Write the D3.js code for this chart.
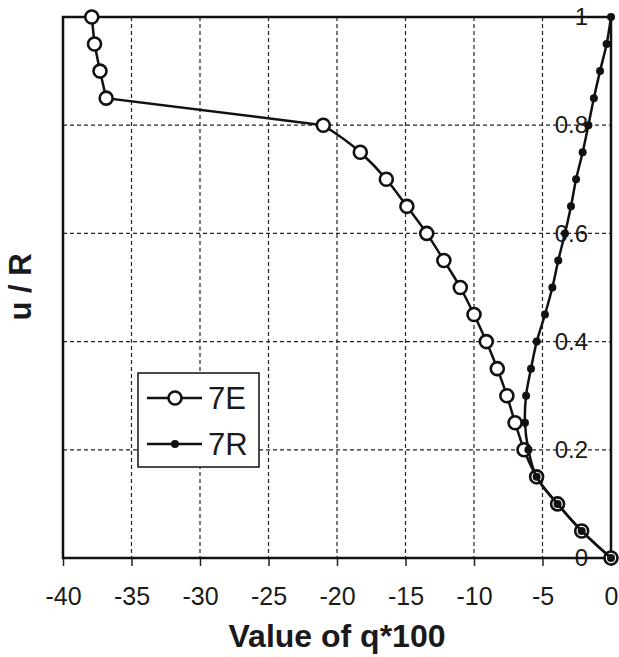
<!DOCTYPE html>
<html>
<head>
<meta charset="utf-8">
<script src="https://cdn.jsdelivr.net/npm/d3@7/dist/d3.min.js"></script>
<style>
  body { margin: 0; background: #fff; }
  svg { display: block; font-family: "Liberation Sans", Arial, sans-serif; }
  .grid line { stroke: #222; stroke-width: 1.2; stroke-dasharray: 4,3; }
</style>
</head>
<body>
<script>
// values
var uR7E = [1.0, 0.95, 0.9, 0.85, 0.8, 0.75, 0.7, 0.65, 0.6, 0.55, 0.5, 0.45, 0.4, 0.35, 0.3, 0.25, 0.2, 0.15, 0.1, 0.05, 0];
var q7E  = [-37.9, -37.7, -37.3, -36.85, -21.0, -18.3, -16.4, -14.9, -13.45, -12.2, -11.0, -10.0, -9.1, -8.3, -7.6, -7.0, -6.35, -5.43, -3.9, -2.14, 0];
var uR7R = [0, 0.05, 0.1, 0.15, 0.2, 0.25, 0.3, 0.35, 0.4, 0.45, 0.5, 0.55, 0.6, 0.65, 0.7, 0.75, 0.8, 0.85, 0.9, 0.95, 1.0];
var q7R  = [0, -2.14, -3.9, -5.43, -6.03, -6.28, -6.2, -5.84, -5.42, -4.82, -4.28, -3.85, -3.36, -2.92, -2.55, -2.07, -1.65, -1.25, -0.8, -0.32, 0];
var xTicks = [-40, -35, -30, -25, -20, -15, -10, -5, 0];
var yTicks = [0, 0.2, 0.4, 0.6, 0.8, 1];
var seriesNames = ["7E", "7R"];

var width = 619, height = 657;
var plotLeft = 63, plotRight = 611, plotTop = 17, plotBottom = 558;

var x = d3.scaleLinear().domain([-40, 0]).range([plotLeft, plotRight]);
var y = d3.scaleLinear().domain([0, 1]).range([plotBottom, plotTop]);

var svg = d3.select("body").append("svg")
  .attr("width", width)
  .attr("height", height);

// dashed grid
var grid = svg.append("g").attr("class", "grid");
grid.selectAll(".vx")
  .data(xTicks.slice(1, -1))
  .enter().append("line")
  .attr("x1", function (d) { return x(d); })
  .attr("x2", function (d) { return x(d); })
  .attr("y1", plotTop).attr("y2", plotBottom);
grid.selectAll(".hy")
  .data(yTicks.slice(1, -1))
  .enter().append("line")
  .attr("y1", function (d) { return y(d); })
  .attr("y2", function (d) { return y(d); })
  .attr("x1", plotLeft).attr("x2", plotRight);

// x axis
var xAxis = svg.append("g")
  .attr("transform", "translate(0," + plotBottom + ")")
  .call(d3.axisBottom(x).tickValues(xTicks).tickSize(8).tickPadding(21)
    .tickFormat(function (d) { return String(d); }));
xAxis.select(".domain").remove();
xAxis.selectAll(".tick line").attr("stroke", "#222").attr("stroke-width", 1.5);
xAxis.selectAll("text").attr("font-size", 25).attr("fill", "#1a1a1a")
  .attr("font-family", "'Liberation Sans', Arial, sans-serif");

// y labels sit inside the plot near q = 0
var yAxis = svg.append("g")
  .attr("transform", "translate(596,0)")
  .call(d3.axisLeft(y).tickValues(yTicks).tickSize(0).tickPadding(8)
    .tickFormat(d3.format("~g")));
yAxis.select(".domain").remove();
yAxis.selectAll("text").attr("font-size", 24).attr("fill", "#1a1a1a")
  .attr("font-family", "'Liberation Sans', Arial, sans-serif");

// frame
svg.append("rect")
  .attr("x", plotLeft).attr("y", plotTop)
  .attr("width", plotRight - plotLeft).attr("height", plotBottom - plotTop)
  .attr("fill", "none").attr("stroke", "#111").attr("stroke-width", 2.5);

var dE = q7E.map(function (q, i) { return { q: q, u: uR7E[i] }; });
var dR = q7R.map(function (q, i) { return { q: q, u: uR7R[i] }; });

var straight = d3.line()
  .x(function (d) { return x(d.q); })
  .y(function (d) { return y(d.u); });
// 7E is monotone in q, 7R is not
var lineE = d3.line()
  .x(function (d) { return x(d.q); })
  .y(function (d) { return y(d.u); })
  .curve(d3.curveMonotoneX);
var lineR = d3.line()
  .x(function (d) { return x(d.q); })
  .y(function (d) { return y(d.u); })
  .curve(d3.curveCatmullRom.alpha(0.5));

// 7E: straight down to u/R = 0.8, smooth after
svg.append("path").datum(dE.slice(0, 5))
  .attr("d", straight).attr("fill", "none")
  .attr("stroke", "#111").attr("stroke-width", 2.5);
svg.append("path").datum(dE.slice(4))
  .attr("d", lineE).attr("fill", "none")
  .attr("stroke", "#111").attr("stroke-width", 2.5);
svg.selectAll(".e").data(dE).enter().append("circle")
  .attr("cx", function (d) { return x(d.q); })
  .attr("cy", function (d) { return y(d.u); })
  .attr("r", 6.5).attr("fill", "#fff")
  .attr("stroke", "#111").attr("stroke-width", 2.6);

svg.append("path").datum(dR)
  .attr("d", lineR).attr("fill", "none")
  .attr("stroke", "#111").attr("stroke-width", 2.5);
svg.selectAll(".r").data(dR).enter().append("circle")
  .attr("cx", function (d) { return x(d.q); })
  .attr("cy", function (d) { return y(d.u); })
  .attr("r", 4).attr("fill", "#111");

// legend
var lg = svg.append("g");
lg.append("rect")
  .attr("x", 138).attr("y", 373).attr("width", 121).attr("height", 94)
  .attr("fill", "#fff").attr("stroke", "#111").attr("stroke-width", 1.5);
seriesNames.forEach(function (name, i) {
  var ly = 398 + i * 46;
  lg.append("line")
    .attr("x1", 147).attr("x2", 202).attr("y1", ly).attr("y2", ly)
    .attr("stroke", "#111").attr("stroke-width", 2.5);
  if (i === 0) {
    lg.append("circle").attr("cx", 175).attr("cy", ly).attr("r", 6.5)
      .attr("fill", "#fff").attr("stroke", "#111").attr("stroke-width", 2.6);
  } else {
    lg.append("circle").attr("cx", 175).attr("cy", ly).attr("r", 4)
      .attr("fill", "#111");
  }
  lg.append("text")
    .attr("x", 208).attr("y", ly + 11)
    .attr("font-size", 31).attr("fill", "#1a1a1a")
    .text(name);
});

// axis titles
svg.append("text")
  .attr("x", 337).attr("y", 647)
  .attr("text-anchor", "middle")
  .attr("font-size", 32).attr("font-weight", "bold").attr("fill", "#1a1a1a")
  .text("Value of q*100");

svg.append("text")
  .attr("transform", "translate(31,287) rotate(-90)")
  .attr("text-anchor", "middle")
  .attr("font-size", 31).attr("font-weight", "bold").attr("fill", "#1a1a1a")
  .text("u / R");
</script>
</body>
</html>
